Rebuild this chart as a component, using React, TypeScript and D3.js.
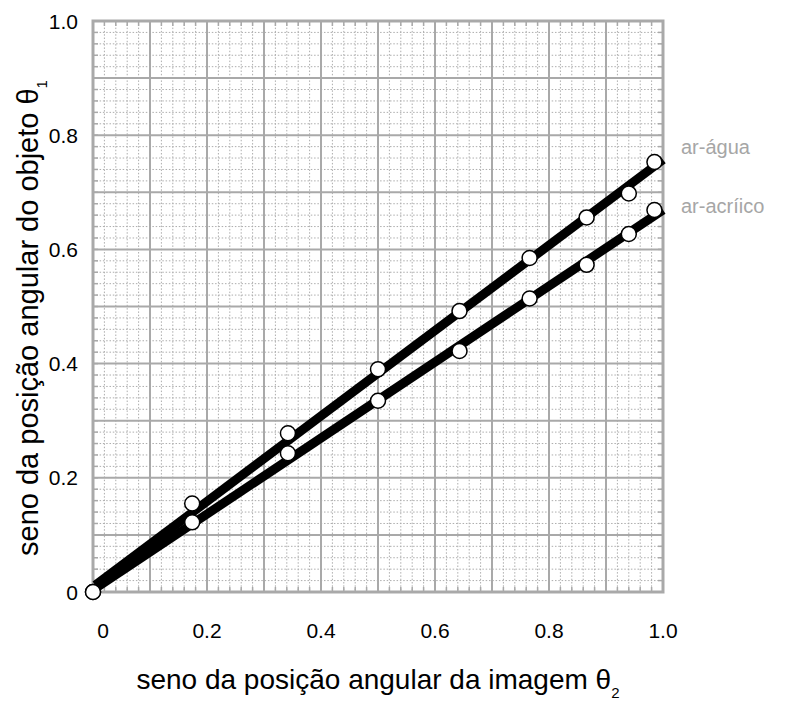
import React from "react";
import * as d3 from "d3";

const xTicks = [0, 0.2, 0.4, 0.6, 0.8, 1.0];
const yTicks = [0, 0.2, 0.4, 0.6, 0.8, 1.0];
const xTickLabels = ["0", "0.2", "0.4", "0.6", "0.8", "1.0"];
const yTickLabels = ["0", "0.2", "0.4", "0.6", "0.8", "1.0"];

const seriesNames = ["ar-água", "ar-acríico"];
const sinImage = [0, 0.174, 0.342, 0.5, 0.643, 0.766, 0.866, 0.94, 0.985];
const sinObjectWater = [0, 0.155, 0.278, 0.39, 0.492, 0.585, 0.656, 0.698, 0.753];
const sinObjectAcrylic = [0, 0.122, 0.243, 0.335, 0.422, 0.514, 0.573, 0.627, 0.669];
const fitX = [0.004, 1.0];
const fitWater = [0.012, 0.757];
const fitAcrylic = [0.006, 0.669];

const W = 809;
const H = 702;
const left = 93, right = 663, top = 21, bottom = 592;

export default function App() {
  const x = d3.scaleLinear().domain([0, 1]).range([left, right]);
  const y = d3.scaleLinear().domain([0, 1]).range([bottom, top]);
  const minor = d3.range(0, 51).map((i) => i / 50);
  const major = d3.range(0, 11).map((i) => i / 10);
  const isMajor = (v: number) => Math.abs(v * 10 - Math.round(v * 10)) < 1e-6;
  const line = d3.line<[number, number]>().x((d) => x(d[0])).y((d) => y(d[1]));
  const fits = [fitWater, fitAcrylic];
  const pts = [sinObjectWater, sinObjectAcrylic];
  const font = "'Liberation Sans', Arial, Helvetica, sans-serif";
  const gridColor = "#a9a9a9";

  return (
    <svg width={W} height={H} style={{ position: "absolute", left: 0, top: 0 }} fontFamily={font}>
      <rect x={0} y={0} width={W} height={H} fill="white" />
      {minor.filter((v) => !isMajor(v)).map((v, i) => (
        <g key={"m" + i}>
          <line x1={x(v)} x2={x(v)} y1={top} y2={bottom} stroke="#adadad" strokeWidth={1} strokeDasharray="1.5,1.8" />
          <line x1={left} x2={right} y1={y(v)} y2={y(v)} stroke="#adadad" strokeWidth={1} strokeDasharray="1.5,1.8" />
        </g>
      ))}
      {minor.map((v, i) => (
        <g key={"t" + i} stroke={gridColor} strokeWidth={1.5}>
          <line x1={x(v)} x2={x(v)} y1={bottom} y2={bottom - 5} />
          <line x1={x(v)} x2={x(v)} y1={top} y2={top + 5} />
          <line x1={left} x2={left + 5} y1={y(v)} y2={y(v)} />
          <line x1={right} x2={right - 5} y1={y(v)} y2={y(v)} />
        </g>
      ))}
      {major.map((v, i) => (
        <g key={"M" + i} stroke={gridColor} strokeWidth={2}>
          <line x1={x(v)} x2={x(v)} y1={top} y2={bottom} />
          <line x1={left} x2={right} y1={y(v)} y2={y(v)} />
        </g>
      ))}
      <rect x={left} y={top} width={right - left} height={bottom - top} fill="none" stroke={gridColor} strokeWidth={3} />
      {fits.map((f, i) => (
        <path key={"f" + i} d={line(fitX.map((xv, j) => [xv, f[j]]) as [number, number][]) || ""} stroke="black" strokeWidth={9} fill="none" />
      ))}
      {pts.map((s, i) => (
        <g key={"p" + i}>
          {s.map((v, j) => (
            <circle key={j} cx={x(sinImage[j])} cy={y(v)} r={7.5} fill="white" stroke="black" strokeWidth={1.5} />
          ))}
        </g>
      ))}
      {xTicks.map((v, i) => (
        <text key={"xl" + i} x={x(v) + (v === 0 ? 10 : 0)} y={638} textAnchor="middle" fontSize={21} fill="black">
          {xTickLabels[i]}
        </text>
      ))}
      {yTicks.map((v, i) => (
        <text key={"yl" + i} x={78} y={y(v) + 7.5} textAnchor="end" fontSize={21} fill="black">
          {yTickLabels[i]}
        </text>
      ))}
      <text x={(left + right) / 2} y={689} fontSize={28} fill="black" textAnchor="middle">
        seno da posição angular da imagem θ
        <tspan dy={9} fontSize={15}>2</tspan>
      </text>
      <text transform={`translate(38, 318) rotate(-90)`} x={0} y={0} fontSize={29} fill="black" textAnchor="middle">
        seno da posição angular do objeto θ
        <tspan dy={9} fontSize={15}>1</tspan>
      </text>
      <text x={681} y={154} fontSize={20} fill="#a6a6a6">{seriesNames[0]}</text>
      <text x={681} y={213} fontSize={20} fill="#a6a6a6">{seriesNames[1]}</text>
    </svg>
  );
}
